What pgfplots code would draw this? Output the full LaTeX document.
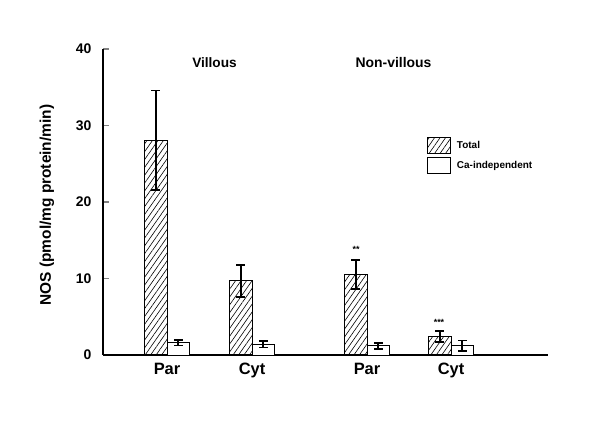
\documentclass[border=0pt]{standalone}
\usepackage{pgfplots}
\pgfplotsset{compat=1.18}
\usepackage{fontspec}
\setmainfont{Liberation Sans}
\usetikzlibrary{patterns.meta}
\begin{document}
\begin{tikzpicture}
\path[use as bounding box] (0,0) rectangle (600bp,421bp);
\begin{axis}[
  at={(103bp,66bp)}, anchor=south west,
  scale only axis, width=445bp, height=306bp,
  xmin=103, xmax=548, ymin=0, ymax=40,
  axis lines=left, axis line style={-, line width=1.3bp},
  ybar=0pt, bar width=22.5bp,
  ytick={0,10,20,30,40},
  tick align=inside, major tick length=6bp,
  ytick style={line width=1.3bp},
  xtick={167,252,367,451}, xticklabels={Par,Cyt,Par,Cyt},
  xtick style={draw=none},
  /pgf/number format/assume math mode=true,
  yticklabel style={font=\bfseries\fontsize{14}{14}\selectfont, xshift=-8bp},
  xticklabel style={font=\bfseries\fontsize{16.5}{16.5}\selectfont, yshift=-5bp},
  ylabel={NOS (pmol/mg protein/min)},
  ylabel style={font=\bfseries\fontsize{15.5}{15.5}\selectfont, at={(axis description cs:-0.126,0.49)}, anchor=center},
  legend style={draw=none, fill=none, inner sep=0pt, row sep=3bp, column sep=6bp,
    nodes={inner sep=0pt, anchor=west}, font=\bfseries\fontsize{10}{10}\selectfont,
    at={(axis description cs:0.728,0.712)}, anchor=north west, cells={anchor=west}},
  legend image code/.code={\draw[#1, line width=0.8bp] (0bp,-8bp) rectangle (23bp,8bp);},
]
\addplot[draw=black, line width=0.8bp, pattern={Lines[angle=55,distance=4.5bp,line width=0.6bp]},
  error bars/.cd, y dir=both, y explicit,
  error bar style={line width=1.6bp, black, solid},
  error mark options={rotate=90, mark size=4.5bp, line width=1.6bp, black}]
  coordinates {(167,28.1) +- (0,6.5) (252,9.7) +- (0,2.1) (367,10.5) +- (0,1.9) (451,2.4) +- (0,0.7)};
\addlegendentry{Total}
\addplot[draw=black, fill=white, line width=0.8bp,
  error bars/.cd, y dir=both, y explicit,
  error bar style={line width=1.6bp, black, solid},
  error mark options={rotate=90, mark size=4.5bp, line width=1.6bp, black}]
  coordinates {(167,1.6) +- (0,0.35) (252,1.4) +- (0,0.4) (367,1.2) +- (0,0.4) (451,1.2) +- (0,0.7)};
\addlegendentry{Ca-independent}
\node[font=\bfseries\fontsize{13.7}{13.7}\selectfont] at (axis cs:214.5,38.2) {Villous};
\node[font=\bfseries\fontsize{14}{14}\selectfont] at (axis cs:393.5,38.2) {Non-villous};
\node[font=\bfseries\fontsize{9}{9}\selectfont] at (axis cs:356,13.8) {**};
\node[font=\bfseries\fontsize{9}{9}\selectfont] at (axis cs:439,4.2) {***};
\end{axis}
\end{tikzpicture}
\end{document}
